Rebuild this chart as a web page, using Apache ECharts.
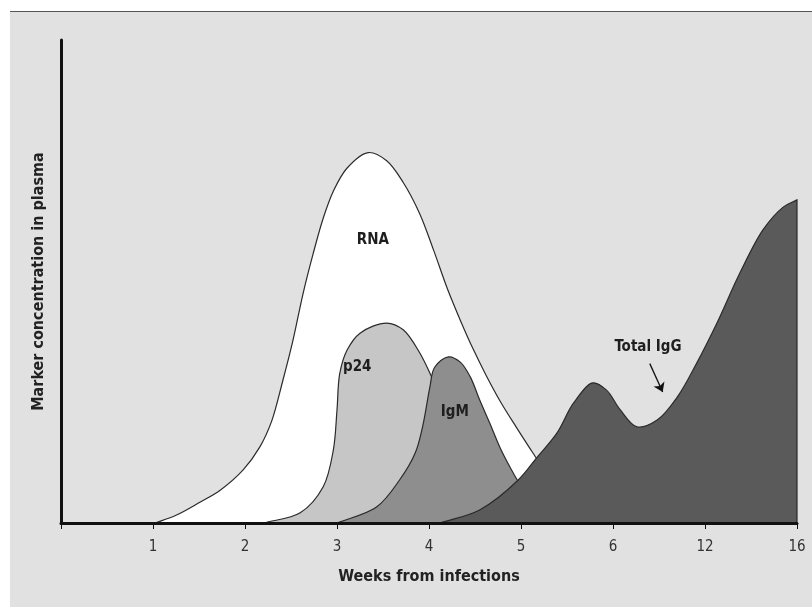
<!DOCTYPE html>
<html>
<head>
<meta charset="utf-8">
<script src="https://cdn.jsdelivr.net/npm/echarts@6/dist/echarts.min.js"></script>
<style>
  html, body { margin: 0; padding: 0; background: #fff; }
  #bg { position: absolute; left: 10px; top: 11px; width: 802px; height: 596px;
        background: #e1e1e1; border-top: 1px solid #555; }
  #chart { position: absolute; left: 0; top: 0; width: 812px; height: 607px; }
</style>
</head>
<body>
<div id="bg"></div>
<div id="chart"></div>
<script>
// x positions are tick slots: 0..8 -> labels below
const tickLabels = ['', '1', '2', '3', '4', '5', '6', '12', '16'];

// marker curves, [slot, relative concentration]
const rnaData = [[1.02, 0], [1.25, 1.6], [1.51, 4.3], [1.73, 6.8], [1.98, 11.0], [2.16, 15.7],
  [2.29, 21.1], [2.41, 29.4], [2.52, 37.7], [2.63, 47.4], [2.74, 55.7], [2.85, 63.1],
  [2.96, 68.7], [3.11, 73.5], [3.34, 76.7], [3.54, 75.0], [3.72, 70.5], [3.90, 64.0],
  [4.05, 56.5], [4.20, 48.5], [4.34, 42.0], [4.48, 36.0], [4.62, 30.6], [4.78, 25.0],
  [4.95, 19.8], [5.13, 14.5], [5.4, 7], [5.7, 2], [6.0, 0]];
const p24Data = [[2.2, 0], [2.60, 2.1], [2.85, 7.5], [2.96, 15.1], [3.0, 23.4], [3.03, 31.0],
  [3.11, 35.8], [3.25, 39.3], [3.54, 41.4], [3.72, 40.0], [3.90, 35.2], [4.03, 30.2],
  [4.2, 23], [4.4, 14], [4.6, 6], [4.85, 1], [5.0, 0]];
const igmData = [[3.0, 0], [3.43, 3.3], [3.68, 8.9], [3.85, 14.5], [3.93, 19.9], [4.01, 28.2],
  [4.06, 32.2], [4.21, 34.4], [4.34, 33.3], [4.45, 30.2], [4.55, 25.5], [4.66, 20.7],
  [4.77, 15.7], [4.88, 11.6], [4.97, 8.6], [5.2, 3], [5.5, 0]];
const iggData = [[4.12, 0], [4.55, 2.7], [4.97, 8.9], [5.17, 13.5], [5.39, 18.6], [5.57, 24.8],
  [5.78, 29.0], [5.93, 27.5], [6.08, 23.4], [6.26, 19.9], [6.48, 21.3], [6.70, 26.1],
  [6.91, 33.1], [7.13, 41.4], [7.38, 51.8], [7.63, 60.7], [7.85, 65.4], [8.0, 66.9]];

// label anchors
const labelNames = ['RNA', 'p24', 'IgM', 'Total IgG'];
const labelPos = [[3.39, 58.6], [3.22, 32.3], [4.28, 23], [6.38, 36.4]];
const iggArrow = [[6.4, 33.0], [6.54, 27.1]];

const FONT = '"Liberation Sans Narrow", "DejaVu Sans Condensed", "Liberation Sans", sans-serif';

// centripetal catmull-rom through pixel points, as bezier segments after the first point
function curvePath(p) {
  const n = p.length;
  const pt = i => {
    if (i < 0) return [2 * p[0][0] - p[1][0], 2 * p[0][1] - p[1][1]];
    if (i >= n) return [2 * p[n - 1][0] - p[n - 2][0], 2 * p[n - 1][1] - p[n - 2][1]];
    return p[i];
  };
  const dist = (a, b) => Math.max(Math.pow(Math.hypot(b[0] - a[0], b[1] - a[1]), 0.5), 1e-6);
  let d = '';
  for (let i = 0; i < n - 1; i++) {
    const p0 = pt(i - 1), p1 = pt(i), p2 = pt(i + 1), p3 = pt(i + 2);
    const d1 = dist(p0, p1), d2 = dist(p1, p2), d3 = dist(p2, p3);
    const b1 = [0, 1].map(k => (d1 * d1 * p2[k] - d2 * d2 * p0[k] +
      (2 * d1 * d1 + 3 * d1 * d2 + d2 * d2) * p1[k]) / (3 * d1 * (d1 + d2)));
    const b2 = [0, 1].map(k => (d3 * d3 * p1[k] - d2 * d2 * p3[k] +
      (2 * d3 * d3 + 3 * d3 * d2 + d2 * d2) * p2[k]) / (3 * d3 * (d3 + d2)));
    d += ' C' + b1[0] + ',' + b1[1] + ' ' + b2[0] + ',' + b2[1] + ' ' + p2[0] + ',' + p2[1];
  }
  return d;
}

function area(name, data, fill, z, closeEdge) {
  return {
    name: name,
    type: 'custom',
    z: z,
    data: data,
    silent: true,
    renderItem: function (params, api) {
      if (params.dataIndex !== 0) return null;
      const pts = data.map(d => api.coord(d));
      const base = api.coord([0, 0])[1];
      const first = pts[0], last = pts[pts.length - 1];
      const curve = 'M' + first[0] + ',' + first[1] + curvePath(pts);
      const fillPath = 'M' + first[0] + ',' + base + ' L' + first[0] + ',' + first[1] +
        curvePath(pts) + ' L' + last[0] + ',' + base + ' Z';
      const strokePath = curve + (closeEdge ? ' L' + last[0] + ',' + base : '');
      return {
        type: 'group',
        children: [
          { type: 'path', shape: { pathData: fillPath }, style: { fill: fill, stroke: null } },
          { type: 'path', shape: { pathData: strokePath },
            style: { fill: null, stroke: '#2a2a2a', lineWidth: 1.2 } }
        ]
      };
    }
  };
}

const chart = echarts.init(document.getElementById('chart'), null, { renderer: 'canvas' });

chart.setOption({
  backgroundColor: 'transparent',
  animation: false,
  grid: { left: 61, right: 15, top: 40, bottom: 84 },
  xAxis: {
    type: 'value',
    min: 0,
    max: 8,
    interval: 1,
    z: 10,
    name: 'Weeks from infections',
    nameLocation: 'middle',
    nameGap: 46,
    nameTextStyle: { color: '#222', fontSize: 16, fontWeight: 'bold', fontFamily: FONT },
    axisLine: { lineStyle: { color: '#111', width: 3 } },
    axisTick: { show: true, length: 6, lineStyle: { color: '#111', width: 1 } },
    axisLabel: {
      margin: 17,
      color: '#333',
      fontSize: 15,
      fontFamily: FONT,
      formatter: v => tickLabels[Math.round(v)] || ''
    },
    splitLine: { show: false }
  },
  yAxis: {
    type: 'value',
    min: 0,
    max: 100,
    z: 10,
    name: 'Marker concentration in plasma',
    nameLocation: 'middle',
    nameGap: 14,
    nameTextStyle: { color: '#222', fontSize: 16, fontWeight: 'bold', fontFamily: FONT },
    axisLine: { show: true, lineStyle: { color: '#111', width: 3 } },
    axisTick: { show: false },
    axisLabel: { show: false },
    splitLine: { show: false }
  },
  series: [
    area('RNA', rnaData, '#ffffff', 2, false),
    area('p24', p24Data, '#c6c6c6', 3, false),
    area('IgM', igmData, '#8e8e8e', 4, false),
    area('Total IgG', iggData, '#5a5a5a', 5, true),
    {
      name: 'labels',
      type: 'scatter',
      z: 20,
      silent: true,
      symbolSize: 0,
      itemStyle: { opacity: 1 },
      data: labelPos.map((p, i) => ({ value: p, name: labelNames[i] })),
      label: {
        show: true,
        position: 'inside',
        formatter: '{b}',
        color: '#1e1e1e',
        fontSize: 15,
        fontFamily: FONT,
        fontWeight: 'bold'
      },
      markLine: {
        silent: true,
        symbol: ['none', 'arrow'],
        symbolSize: 9,
        label: { show: false },
        lineStyle: { color: '#111', width: 1.3, type: 'solid', opacity: 1 },
        data: [[{ coord: iggArrow[0] }, { coord: iggArrow[1] }]]
      }
    }
  ]
});
</script>
</body>
</html>
